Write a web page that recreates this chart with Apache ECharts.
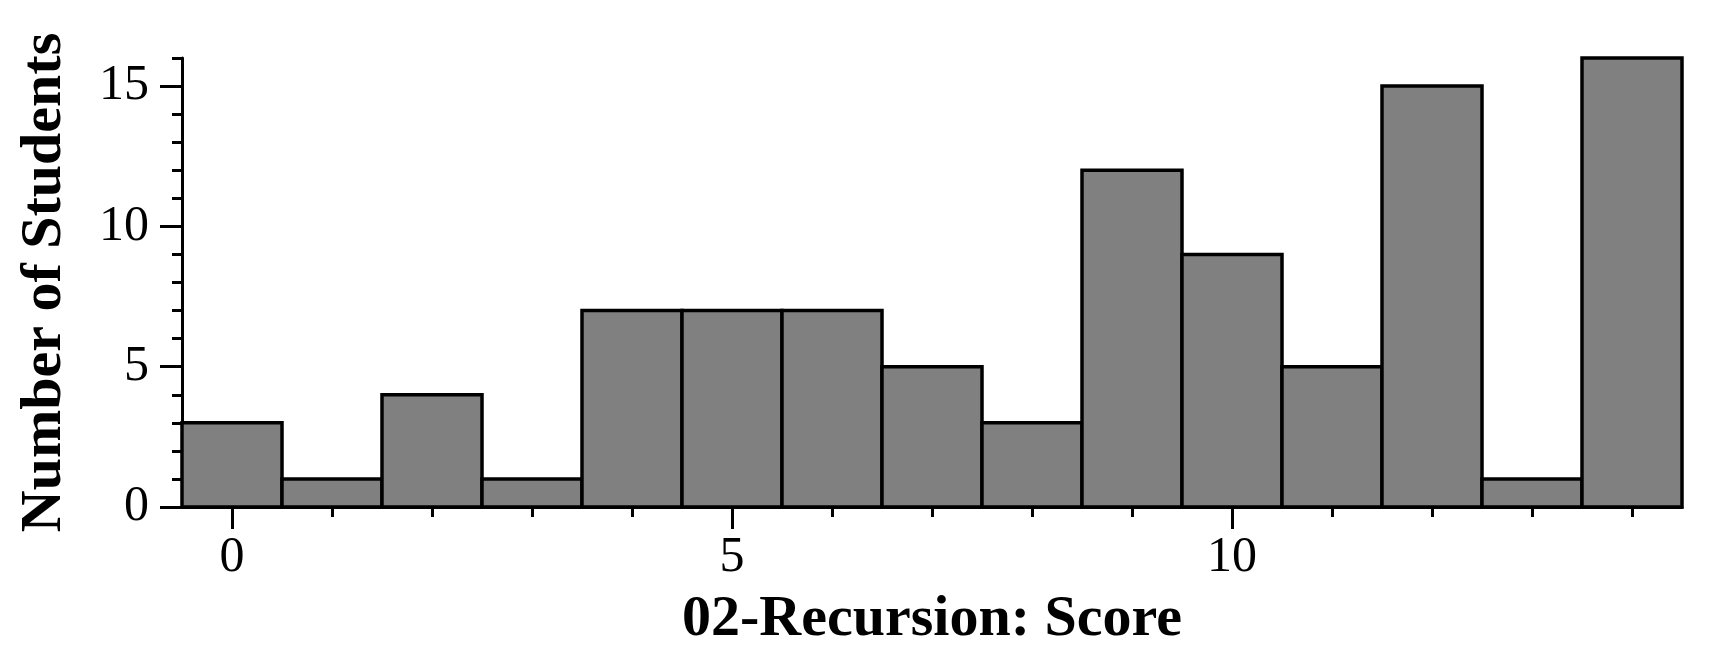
<!DOCTYPE html>
<html>
<head>
<meta charset="utf-8">
<script src="https://cdn.jsdelivr.net/npm/echarts@6/dist/echarts.min.js"></script>
<style>
html,body{margin:0;padding:0;background:#fff;}
#chart{width:1720px;height:670px;}
</style>
</head>
<body>
<div id="chart"></div>
<script>
// Data
const scores = [0,1,2,3,4,5,6,7,8,9,10,11,12,13,14];
const counts = [3,1,4,1,7,7,7,5,3,12,9,5,15,1,16];
const xMajorTicks = [0,5,10];
const xMinorTicks = [0,1,2,3,4,5,6,7,8,9,10,11,12,13,14];
const yMajorTicks = [0,5,10,15];
const yMinorTicks = [0,1,2,3,4,5,6,7,8,9,10,11,12,13,14,15,16];
const xTitle = '02-Recursion: Score';
const yTitle = 'Number of Students';

const FONT = '"Liberation Serif", "Times New Roman", serif';
const chart = echarts.init(document.getElementById('chart'), null, {renderer:'canvas'});

const data = scores.map((s,i)=>[s, counts[i]]);

chart.setOption({
  animation:false,
  backgroundColor:'#fff',
  grid:{left:182,right:38,top:58,bottom:163},
  xAxis:[{
    type:'value', min:-0.5, max:14.5, position:'bottom',
    name:xTitle, nameLocation:'middle', nameGap:84, nameMoveOverlap:false,
    nameTextStyle:{fontFamily:FONT,fontSize:58,fontWeight:'bold',color:'#000'},
    axisLine:{show:true,onZero:false,lineStyle:{color:'#000',width:3}},
    axisTick:{show:true,length:22,customValues:xMajorTicks,lineStyle:{color:'#000',width:3}},
    axisLabel:{show:true,customValues:xMajorTicks,margin:26,fontFamily:FONT,fontSize:50,color:'#000'},
    splitLine:{show:false}
  },{
    type:'value', min:-0.5, max:14.5, position:'bottom', offset:0,
    axisLine:{show:false,onZero:false},
    axisTick:{show:true,length:10,customValues:xMinorTicks,lineStyle:{color:'#000',width:3}},
    axisLabel:{show:false},
    splitLine:{show:false}
  }],
  yAxis:[{
    type:'value', min:0, max:16, position:'left',
    name:yTitle, nameLocation:'middle', nameGap:108, nameMoveOverlap:false,
    nameTextStyle:{fontFamily:FONT,fontSize:58,fontWeight:'bold',color:'#000'},
    axisLine:{show:true,onZero:false,lineStyle:{color:'#000',width:3}},
    axisTick:{show:true,length:22,customValues:yMajorTicks,lineStyle:{color:'#000',width:3}},
    axisLabel:{show:true,customValues:yMajorTicks,margin:33,fontFamily:FONT,fontSize:50,color:'#000'},
    splitLine:{show:false}
  },{
    type:'value', min:0, max:16, position:'left', offset:0,
    axisLine:{show:false,onZero:false},
    axisTick:{show:true,length:10,customValues:yMinorTicks,lineStyle:{color:'#000',width:3}},
    axisLabel:{show:false},
    splitLine:{show:false}
  }],
  series:[{
    type:'custom',
    xAxisIndex:0, yAxisIndex:0,
    data:data,
    renderItem:function(params, api){
      const x = api.value(0), y = api.value(1);
      const p1 = api.coord([x-0.5, y]);
      const p2 = api.coord([x+0.5, 0]);
      return {
        type:'rect',
        shape:{x:p1[0], y:p1[1], width:p2[0]-p1[0], height:p2[1]-p1[1]},
        style:{fill:'#808080', stroke:'#000', lineWidth:3.5}
      };
    },
    z:1
  }]
});
</script>
</body>
</html>
